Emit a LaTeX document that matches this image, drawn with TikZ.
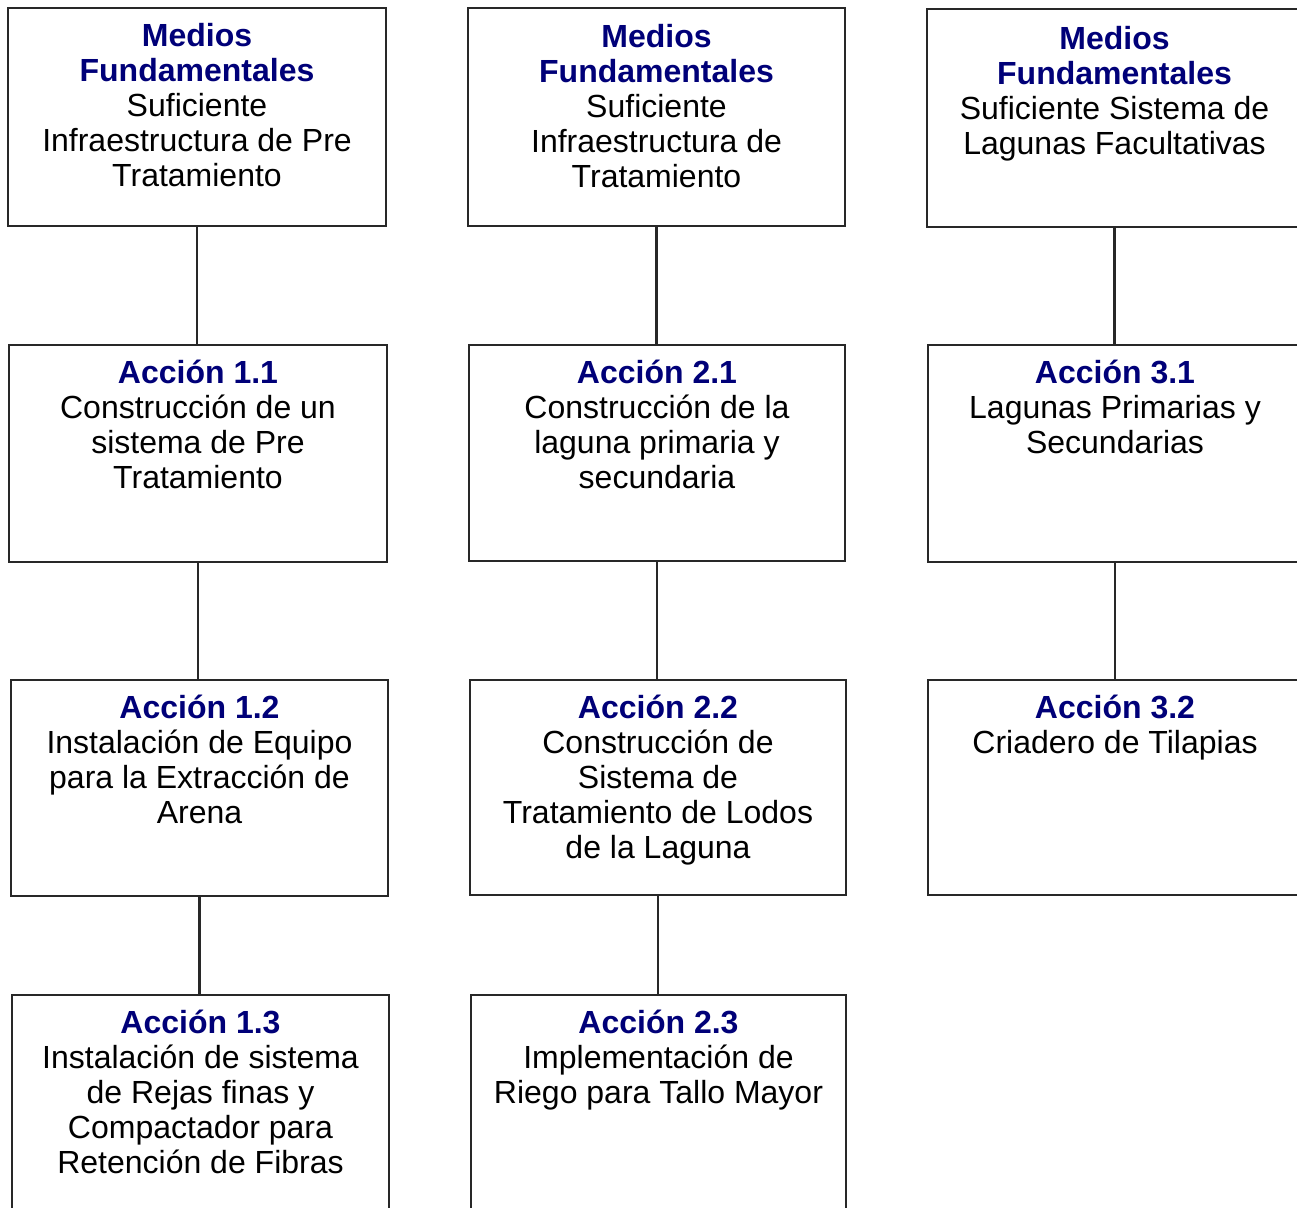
\documentclass[tikz,border=0pt]{standalone}
\usepackage{fontspec}
\setmainfont{Liberation Sans}
\definecolor{navy}{RGB}{0,0,120}
\definecolor{edgegray}{RGB}{40,40,40}
\begin{document}
\begin{tikzpicture}[x=1pt,y=-1pt,
  box/.style={draw=edgegray,line width=2.8pt,fill=white,inner sep=0pt},
  txt/.style={anchor=north,inner sep=0pt,align=center,yshift=-15pt,
    font=\fontsize{32}{35}\selectfont},
  conn/.style={draw=edgegray,line width=2.8pt}]
\useasboundingbox[fill=white] (0,0) rectangle (1297,1207);
\clip (0,0) rectangle (1297,1207);
\newcommand{\ttl}[1]{\rule{0pt}{25pt}\textcolor{navy}{\textbf{#1}}}
% column 1
\node[box,minimum width=378pt,minimum height=218pt] (m1) at (197,117) {};
\node[box,minimum width=378pt,minimum height=217pt] (a11) at (198,453.5) {};
\node[box,minimum width=377pt,minimum height=216pt] (a12) at (199.5,788) {};
\node[box,minimum width=377pt,minimum height=230pt] (a13) at (200.5,1110) {};
% column 2
\node[box,minimum width=377pt,minimum height=218pt] (m2) at (656.5,117) {};
\node[box,minimum width=376pt,minimum height=216pt] (a21) at (657,453) {};
\node[box,minimum width=376pt,minimum height=215pt] (a22) at (658,787.5) {};
\node[box,minimum width=375pt,minimum height=230pt] (a23) at (658.5,1110) {};
% column 3
\node[box,minimum width=375pt,minimum height=218pt] (m3) at (1114.5,118) {};
\node[box,minimum width=374pt,minimum height=217pt] (a31) at (1115,453.5) {};
\node[box,minimum width=374pt,minimum height=215pt] (a32) at (1115,787.5) {};
% connectors
\draw[conn] (m1.south) -- (m1.south |- a11.north);
\draw[conn] (a11.south) -- (a11.south |- a12.north);
\draw[conn] (a12.south) -- (a12.south |- a13.north);
\draw[conn] (m2.south) -- (m2.south |- a21.north);
\draw[conn] (a21.south) -- (a21.south |- a22.north);
\draw[conn] (a22.south) -- (a22.south |- a23.north);
\draw[conn] (m3.south) -- (m3.south |- a31.north);
\draw[conn] (a31.south) -- (a31.south |- a32.north);
% texts
\node[txt] (tm1) at (m1.north) {\ttl{Medios}\\\textcolor{navy}{\textbf{Fundamentales}}\\Suficiente\\Infraestructura de Pre\\Tratamiento};
\node[txt] (ta11) at (a11.north) {\ttl{Acción 1.1}\\Construcción de un\\sistema de Pre\\Tratamiento};
\node[txt] (ta12) at (a12.north) {\ttl{Acción 1.2}\\Instalación de Equipo\\para la Extracción de\\Arena};
\node[txt] (ta13) at (a13.north) {\ttl{Acción 1.3}\\Instalación de sistema\\de Rejas finas y\\Compactador para\\Retención de Fibras};
\node[txt,yshift=-1pt] (tm2) at (m2.north) {\ttl{Medios}\\\textcolor{navy}{\textbf{Fundamentales}}\\Suficiente\\Infraestructura de\\Tratamiento};
\node[txt] (ta21) at (a21.north) {\ttl{Acción 2.1}\\Construcción de la\\laguna primaria y\\secundaria};
\node[txt] (ta22) at (a22.north) {\ttl{Acción 2.2}\\Construcción de\\Sistema de\\Tratamiento de Lodos\\de la Laguna};
\node[txt] (ta23) at (a23.north) {\ttl{Acción 2.3}\\Implementación de\\Riego para Tallo Mayor};
\node[txt,yshift=-2pt] (tm3) at (m3.north) {\ttl{Medios}\\\textcolor{navy}{\textbf{Fundamentales}}\\Suficiente Sistema de\\Lagunas Facultativas};
\node[txt] (ta31) at (a31.north) {\ttl{Acción 3.1}\\Lagunas Primarias y\\Secundarias};
\node[txt] (ta32) at (a32.north) {\ttl{Acción 3.2}\\Criadero de Tilapias};
\end{tikzpicture}
\end{document}
